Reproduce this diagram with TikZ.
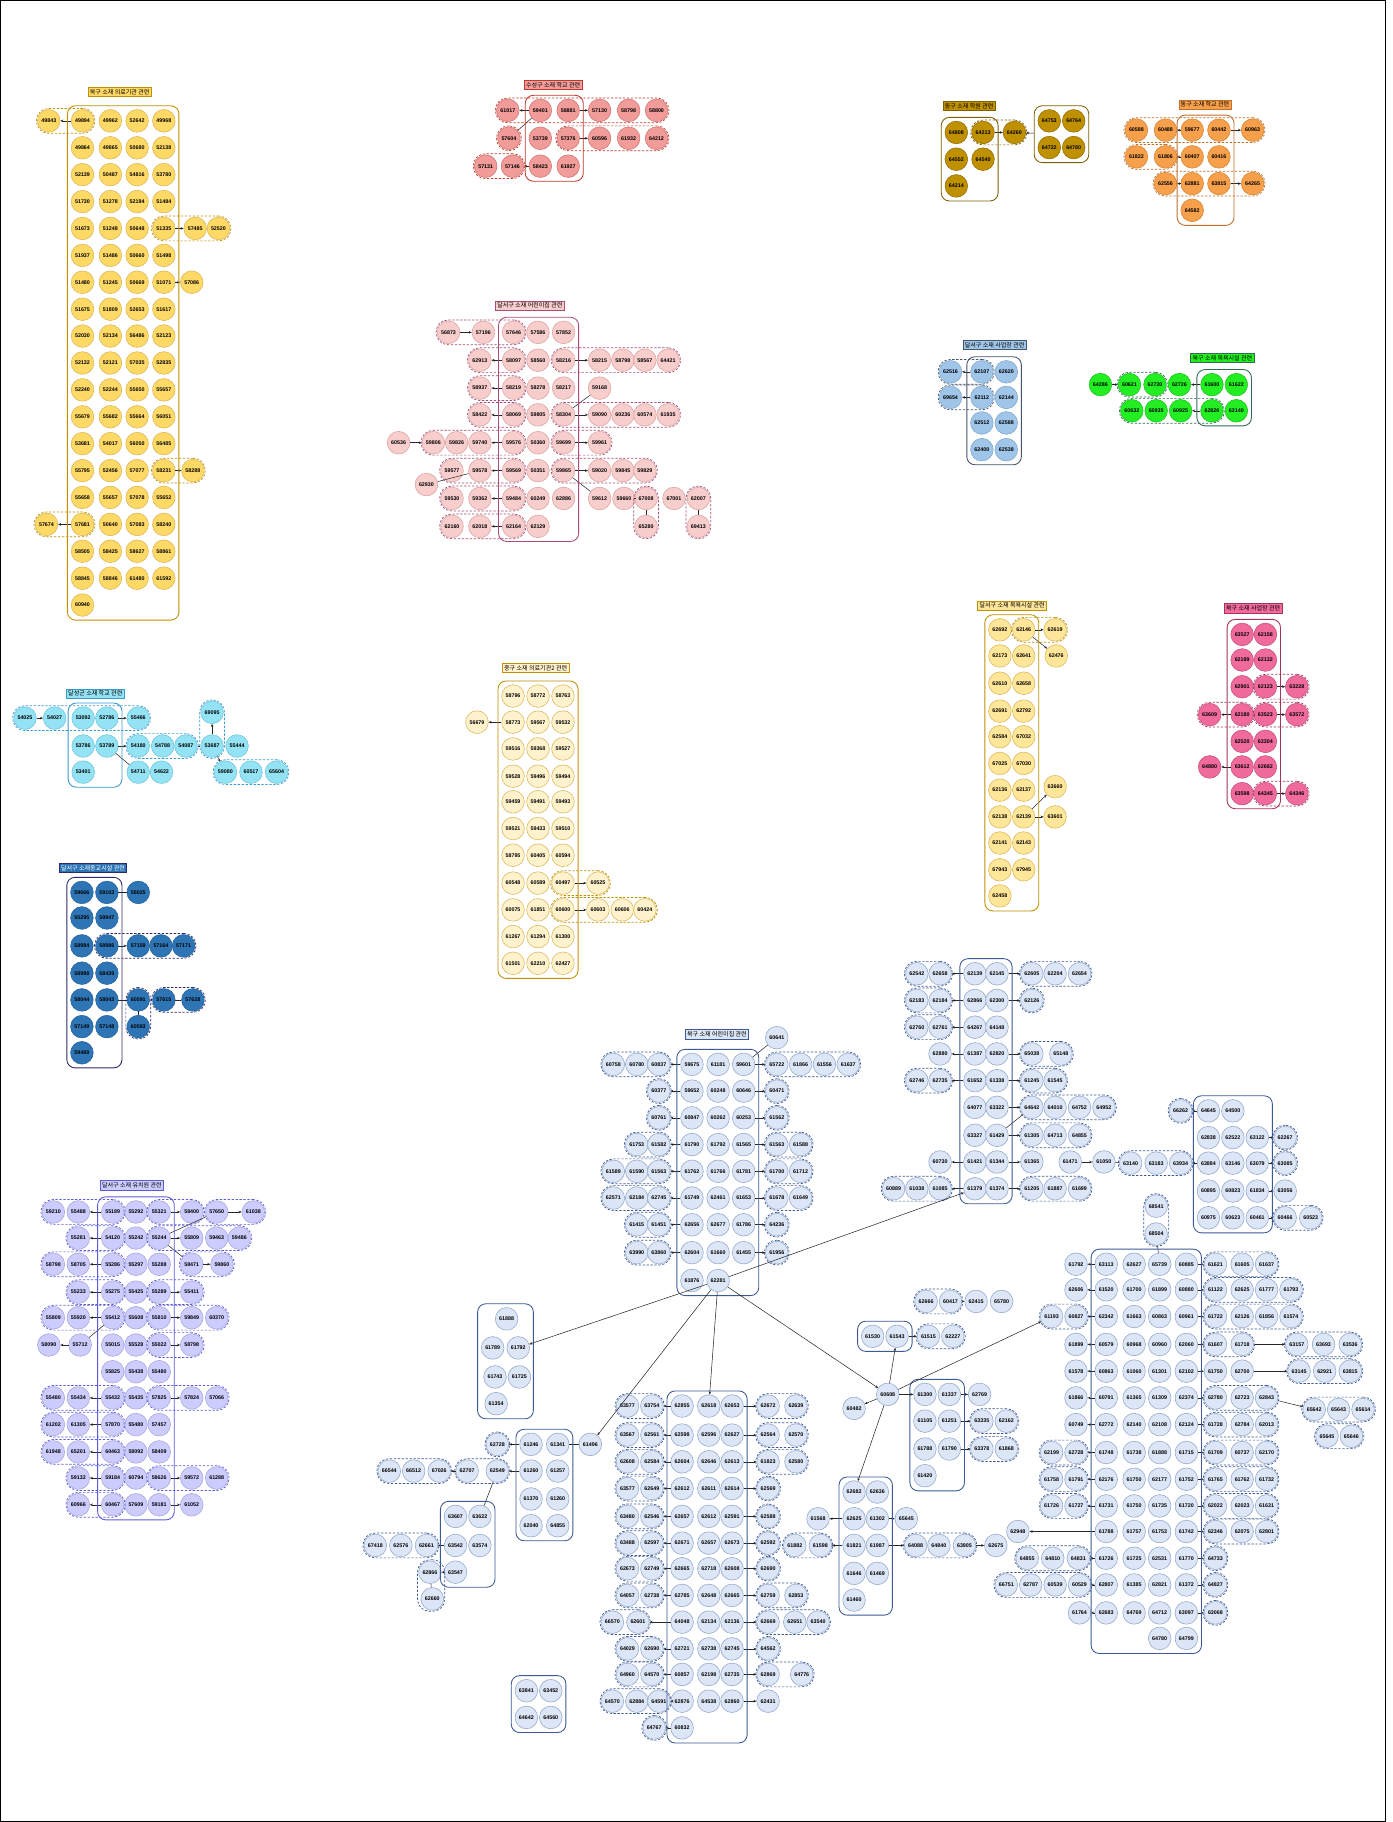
\documentclass[tikz,border=0pt]{standalone}
\usepackage{fontspec}
\setmainfont{Liberation Sans}
\newfontfamily\kr{Noto Sans CJK KR}
\usetikzlibrary{fit,arrows.meta}
\definecolor{yA}{HTML}{FFD966}\definecolor{yAo}{HTML}{D6B656}\definecolor{gold}{HTML}{BF9000}
\definecolor{sB}{HTML}{F19C99}\definecolor{sBo}{HTML}{D07070}\definecolor{sBd}{HTML}{C0392B}
\definecolor{bC}{HTML}{BF9000}\definecolor{bCo}{HTML}{8F6C00}\definecolor{bCd}{HTML}{7F6000}
\definecolor{oD}{HTML}{F7A04B}\definecolor{oDo}{HTML}{D4822E}\definecolor{oDd}{HTML}{C0702A}
\definecolor{pE}{HTML}{F8CECC}\definecolor{pEo}{HTML}{D9A0A0}\definecolor{pEd}{HTML}{A64D79}
\definecolor{bF}{HTML}{9FC5E8}\definecolor{bFo}{HTML}{7FA6CC}\definecolor{bFd}{HTML}{44546A}
\definecolor{gG}{HTML}{22EE22}\definecolor{gGo}{HTML}{22BB22}\definecolor{gGd}{HTML}{2E6B4F}
\definecolor{cH}{HTML}{93E3F5}\definecolor{cHo}{HTML}{6CC3DD}\definecolor{cHd}{HTML}{3D9BCB}
\definecolor{yI}{HTML}{FFF2CC}
\definecolor{yJ}{HTML}{FFE699}
\definecolor{pK}{HTML}{F06A9B}\definecolor{pKo}{HTML}{C44D7A}\definecolor{pKd}{HTML}{A3335F}
\definecolor{bL}{HTML}{2E75B6}\definecolor{bLo}{HTML}{24609A}\definecolor{bLd}{HTML}{2B2B6A}
\definecolor{lM}{HTML}{CCCCFF}\definecolor{lMo}{HTML}{A3A3D8}\definecolor{lMd}{HTML}{5B5BD6}
\definecolor{lN}{HTML}{DCE6F6}\definecolor{lNo}{HTML}{8FA4C8}\definecolor{lNd}{HTML}{3D5A96}
\tikzset{
 cn/.style={circle, minimum size=19.5pt, inner sep=0pt, line width=0.45pt, font=\bfseries\fontsize{4.6}{5}\selectfont, text=black},
 cA/.style={cn, fill=yA, draw=yAo},
 cB/.style={cn, fill=sB, draw=sBo},
 cC/.style={cn, fill=bC, draw=bCo},
 cD/.style={cn, fill=oD, draw=oDo},
 cE/.style={cn, fill=pE, draw=pEo},
 cF/.style={cn, fill=bF, draw=bFo},
 cG/.style={cn, fill=gG, draw=gGo},
 cH/.style={cn, fill=cH, draw=cHo},
 cI/.style={cn, fill=yI, draw=yAo},
 cJ/.style={cn, fill=yJ, draw=yAo},
 cK/.style={cn, fill=pK, draw=pKo},
 cL/.style={cn, fill=bL, draw=bLo},
 cM/.style={cn, fill=lM, draw=lMo},
 cN/.style={cn, fill=lN, draw=lNo},
 dg/.style={draw=#1, dash pattern=on 2pt off 1.4pt, line width=0.6pt, inner sep=0.7pt, rounded corners=10.4pt},
 sg/.style={draw=#1, line width=0.75pt, inner sep=3pt, rounded corners=7pt},
 ttl/.style={font=\kr\fontsize{5.2}{6.2}\selectfont, inner sep=1.6pt, line width=0.45pt, text=black},
 arr/.style={draw=black!85, line width=0.45pt, -{Stealth[length=2.6pt,width=2.2pt]}},
 ln/.style={draw=black!85, line width=0.45pt},
}
\newcommand\cRow[4]{\foreach \px/\lb [count=\ii] in {#4}{\node[#1] (#2-\ii) at (\px,#3) {\lb};}}
\newcommand\cArr[2]{\draw[arr] (#1) -- (#2);}
\newcommand\cLin[2]{\draw[ln] (#1) -- (#2);}
\newcommand\dGrp[3]{\node[dg=#1, fit=#3] (#2) {};}
\newcommand\sGrp[3]{\node[sg=#1, fit=#3] (#2) {};}
\begin{document}
\begin{tikzpicture}[x=1pt,y=-1pt]
\useasboundingbox (0,0) rectangle (1198,1568);
\fill[white] (0,0) rectangle (1198,1568);
\draw[line width=0.8pt] (0.6,0.6) rectangle (1192,1567.4);

% ===== A: 북구 소재 의료기관 관련
\node[ttl, fill=yA, draw=gold] (tA) at (103,79) {북구 소재 의료기관 관련};
\cRow{cA}{A1}{104}{42/49843,71/49894,95/49962,118/52642,141/49968}
\cRow{cA}{A2}{127.2}{71/49864,95/49865,118/50680,141/52138}
\cRow{cA}{A3}{150.3}{71/52139,95/50487,118/54816,141/53780}
\cRow{cA}{A4}{173.5}{71/51730,95/51278,118/52194,141/51484}
\cRow{cA}{A5}{196.6}{71/51673,95/51248,118/50648,141/51335,168/57485,188/52520}
\cRow{cA}{A6}{219.8}{71/51937,95/51486,118/50660,141/51498}
\cRow{cA}{A7}{242.9}{71/51480,95/51245,118/50669,141/51071,165/57086}
\cRow{cA}{A8}{266.1}{71/51675,95/51809,118/52653,141/51617}
\cRow{cA}{A9}{289.2}{71/52030,95/52134,118/56486,141/52123}
\cRow{cA}{A10}{312.4}{71/52132,95/52121,118/57035,141/52835}
\cRow{cA}{A11}{335.5}{71/52240,95/52244,118/55650,141/55657}
\cRow{cA}{A12}{358.7}{71/55679,95/55682,118/55664,141/56051}
\cRow{cA}{A13}{381.8}{71/53681,95/54017,118/56050,141/56485}
\cRow{cA}{A14}{405}{71/55795,95/52456,118/57077,141/58231,166/58288}
\cRow{cA}{A15}{428.1}{71/55658,95/55657,118/57078,141/55652}
\cRow{cA}{A16}{451.3}{40/57674,71/57681,95/50640,118/57083,141/58240}
\cRow{cA}{A17}{474.4}{71/58505,95/58425,118/58627,141/58861}
\cRow{cA}{A18}{497.6}{71/58845,95/58846,118/61480,141/61592}
\cRow{cA}{A19}{520.7}{71/60940}
\cArr{A1-2}{A1-1}\cArr{A5-4}{A5-5}\cArr{A7-4}{A7-5}\cArr{A14-4}{A14-5}\cArr{A16-2}{A16-1}
\dGrp{gold}{gA1}{(A1-1)(A1-2)}\dGrp{gold}{gA2}{(A5-4)(A5-6)}\dGrp{gold}{gA3}{(A14-4)(A14-5)}\dGrp{gold}{gA4}{(A16-1)(A16-2)}
\sGrp{gold}{sA}{(A1-2)(A1-5)(A19-1)}

% ===== B: 수성구 소재 학교 관련
\node[ttl, fill=sB, draw=sBd] (tB) at (476,73) {수성구 소재 학교 관련};
\cRow{cB}{B1}{95}{437/61017,465/59401,489/58881,516/57130,541/58798,565/58800}
\cRow{cB}{B2}{119}{438/57604,465/53739,489/57376,516/60596,541/61932,565/64212}
\cRow{cB}{B3}{143}{418/57131,441/57146,465/58423,489/61927}
\cArr{B1-2}{B1-1}\cLin{B1-2}{B2-1}\cArr{B1-3}{B1-4}\cArr{B2-3}{B2-4}\cArr{B3-3}{B3-2}
\dGrp{sBd}{gB1}{(B1-1)(B1-6)}\dGrp{sBd}{gB2}{(B2-3)(B2-6)}\dGrp{sBd}{gB3}{(B3-1)(B3-2)}\dGrp{sBd}{gB4}{(B2-1)}
\sGrp{sBd}{sB}{(B1-2)(B1-3)(B3-3)}

% ===== C: 동구 소재 학원 관련
\node[ttl, fill=bC, draw=bCd] (tC) at (834,91) {동구 소재 학원 관련};
\cRow{cC}{C1}{114}{823/64808,846/64213,873/64260}
\cRow{cC}{C2}{137}{823/64552,846/64540}
\cRow{cC}{C3}{160}{823/64214}
\cRow{cC}{C4}{104}{903/64753,924/64764}
\cRow{cC}{C5}{127}{903/64722,924/64780}
\cArr{C1-2}{C1-3}
\dGrp{bCd}{gC1}{(C1-2)(C1-3)}
\sGrp{bCd}{sC1}{(C1-1)(C1-2)(C3-1)}
\sGrp{bCd}{sC2}{(C4-1)(C4-2)(C5-2)}
\cArr{sC2}{C1-3}

% ===== D: 동구 소재 학교 관련
\node[ttl, fill=oD, draw=oDd] (tD) at (1037,90) {동구 소재 학교 관련};
\cRow{cD}{D1}{112}{978/60588,1003/60488,1026/59677,1049/60442,1078/60963}
\cRow{cD}{D2}{135}{978/61822,1003/61806,1026/60407,1049/60416}
\cRow{cD}{D3}{158}{1003/62556,1026/62881,1049/63815,1078/64265}
\cRow{cD}{D4}{181}{1026/64582}
\cArr{D1-3}{D1-2}\cArr{D1-4}{D1-5}\cArr{D2-3}{D2-2}\cArr{D3-2}{D3-1}\cArr{D3-3}{D3-4}
\dGrp{oDd}{gD1}{(D1-1)(D1-5)}\dGrp{oDd}{gD2}{(D2-1)(D2-2)}\dGrp{oDd}{gD3}{(D3-1)(D3-4)}
\sGrp{oDd}{sD}{(D1-3)(D1-4)(D4-1)}

% ===== E: 달서구 소재 어린이집 관련
\node[ttl, fill=pE, draw=pEd] (tE) at (456,263) {달서구 소재 어린이집 관련};
\cRow{cE}{E1}{286}{386/56873,416/57196,442/57646,463/57586,485/57852}
\cRow{cE}{E2}{310}{413/62913,442/58097,463/58560,485/58216,516/58215,536/58798,555/58567,575/64421}
\cRow{cE}{E3}{334}{413/58937,442/58219,463/58278,485/58217,516/59168}
\cRow{cE}{E4}{357}{413/58422,442/58069,463/59805,485/58304,516/59090,536/60236,555/60574,575/61935}
\cRow{cE}{E5}{381}{343/60536,373/59806,393/59826,413/59740,442/59576,463/50360,485/59699,516/59961}
\cRow{cE}{E6}{405}{389/59577,413/59578,442/59569,463/50351,485/59865,516/59020,536/59845,555/59829}
\cRow{cE}{E7}{429}{389/59530,413/59362,442/59484,463/60249,485/62886,516/59612,537/59660,556/67008,580/67001,601/62007}
\cRow{cE}{E8}{453}{389/62160,413/62018,442/62164,463/62129,556/65280,601/69413}
\cRow{cE}{E9}{417}{367/62930}
\cArr{E1-1}{E1-2}\cArr{E2-2}{E2-1}\cArr{E3-2}{E3-1}\cArr{E4-2}{E4-1}\cArr{E2-4}{E2-5}\cArr{E4-4}{E4-5}
\cLin{E4-4}{E3-5}\cArr{E5-5}{E5-4}\cArr{E5-1}{E5-2}\cArr{E5-7}{E5-8}\cArr{E6-3}{E6-2}\cArr{E6-5}{E6-6}
\cLin{E6-5}{E7-6}\cLin{E6-2}{E9-1}\cArr{E7-3}{E7-2}\cArr{E8-3}{E8-2}\cLin{E7-7}{E7-8}\cLin{E7-8}{E8-5}\cLin{E7-10}{E8-6}
\dGrp{pEd}{gE1}{(E1-1)(E1-3)}\dGrp{pEd}{gE2}{(E2-1)(E2-2)}\dGrp{pEd}{gE3}{(E2-4)(E2-8)}
\dGrp{pEd}{gE4}{(E3-1)(E3-2)}\dGrp{pEd}{gE5}{(E4-1)(E4-2)}\dGrp{pEd}{gE6}{(E4-4)(E4-8)}
\dGrp{pEd}{gE7}{(E5-2)(E5-5)}\dGrp{pEd}{gE8}{(E5-7)(E5-8)}\dGrp{pEd}{gE9}{(E6-1)(E6-3)}
\dGrp{pEd}{gE10}{(E6-5)(E6-8)}\dGrp{pEd}{gE11}{(E7-1)(E7-3)}\dGrp{pEd}{gE12}{(E8-1)(E8-3)}
\dGrp{pEd}{gE13}{(E7-8)(E8-5)}\dGrp{pEd}{gE14}{(E7-10)(E8-6)}
\sGrp{pEd}{sE}{(E1-3)(E1-5)(E8-3)}

% ===== F: 달서구 소재 사업장 관련
\node[ttl, fill=bF, draw=bFd] (tF) at (856,297) {달서구 소재 사업장 관련};
\cRow{cF}{F1}{320}{818/62516,845/62107,866/62620}
\cRow{cF}{F2}{342}{818/69654,845/62112,866/62144}
\cRow{cF}{F3}{364}{845/62512,866/62588}
\cRow{cF}{F4}{387}{845/62400,866/62538}
\cArr{F1-2}{F1-1}\cArr{F2-2}{F2-1}
\dGrp{bFd}{gF1}{(F1-1)(F1-2)}\dGrp{bFd}{gF2}{(F2-1)(F2-2)}
\sGrp{bFd}{sF}{(F1-2)(F1-3)(F4-1)}

% ===== G: 북구 소재 목욕시설 관련
\node[ttl, fill=gG, draw=gGd] (tG) at (1052,308) {북구 소재 목욕시설 관련};
\cRow{cG}{G1}{331}{947/64286,972/60621,994/62720,1015/62726,1043/61600,1064/61622}
\cRow{cG}{G2}{353.5}{974/60632,995/60935,1016/60925,1043/62826,1064/62140}
\cArr{G1-1}{G1-2}\cArr{G1-5}{G1-4}\cArr{G2-4}{G2-3}
\dGrp{gGd}{gG1}{(G1-2)(G1-3)}\dGrp{gGd}{gG2}{(G2-1)(G2-4)}
\sGrp{gGd}{sG}{(G1-5)(G1-6)(G2-5)}

% ===== H: 달성군 소재 학교 관련
\node[ttl, fill=cH, draw=cHd] (tH) at (82,597) {달성군 소재 학교 관련};
\cRow{cH}{H1}{618}{21.5/54025,47/54027,71.6/53092,92/52786,119/55466}
\cRow{cH}{H2}{642}{71.6/53786,92/53789,119/54180,140/54788,160/54087,182.5/53687,204/55444}
\cRow{cH}{H3}{664.5}{71.6/53401,119/54711,139/54622,194/59080,216/60517,238/65604}
\cRow{cH}{H4}{613}{182.5/69095}
\cArr{H1-1}{H1-2}\cArr{H1-4}{H1-5}\cArr{H2-2}{H2-3}\cLin{H2-2}{H3-2}\cLin{H2-5}{H2-6}\cArr{H2-6}{H4-1}\cArr{H2-6}{H3-4}
\dGrp{cHd}{gH1}{(H1-1)(H1-5)}\dGrp{cHd}{gH2}{(H2-3)(H2-5)}\dGrp{cHd}{gH3}{(H4-1)(H2-6)}\dGrp{cHd}{gH4}{(H3-4)(H3-6)}
\sGrp{cHd}{sH}{(H1-3)(H1-4)(H3-1)}

% ===== I: 중구 소재 의료기관2 관련
\node[ttl, fill=yI, draw=gold] (tI) at (461,575) {중구 소재 의료기관2 관련};
\cRow{cI}{I1}{599}{441.5/58796,463/58772,484.5/58763}
\cRow{cI}{I2}{621.5}{410.5/56679,441.5/58773,463/59567,484.5/59532}
\cRow{cI}{I3}{644.5}{441.5/59516,463/59368,484.5/59527}
\cRow{cI}{I4}{668}{441.5/59528,463/59496,484.5/59494}
\cRow{cI}{I5}{690}{441.5/59459,463/59491,484.5/59493}
\cRow{cI}{I6}{713}{441.5/59521,463/59433,484.5/59510}
\cRow{cI}{I7}{736}{441.5/58795,463/60405,484.5/60594}
\cRow{cI}{I8}{760}{441.5/60548,463/60589,484.5/60497,514.6/60525}
\cRow{cI}{I9}{783}{441.5/60075,463/61851,484.5/60600,514.6/60603,535.5/60606,555/60424}
\cRow{cI}{I10}{806}{441.5/61267,463/61294,484.5/61300}
\cRow{cI}{I11}{829}{441.5/61501,463/62210,484.5/62427}
\cArr{I2-2}{I2-1}\cArr{I8-3}{I8-4}\cArr{I9-3}{I9-4}
\dGrp{gold}{gI1}{(I8-3)(I8-4)}\dGrp{gold}{gI2}{(I9-3)(I9-6)}
\sGrp{gold}{sI}{(I1-1)(I1-3)(I11-1)}

% ===== J: 달서구 소재 목욕시설 관련
\node[ttl, fill=yJ, draw=gold] (tJ) at (871,521) {달서구 소재 목욕시설 관련};
\cRow{cJ}{J1}{542}{860.5/62692,881/62146,908/62619}
\cRow{cJ}{J2}{564.5}{860.5/62173,881/62641,909/62476}
\cRow{cJ}{J3}{588}{860.5/62610,881/62658}
\cRow{cJ}{J4}{612}{860.5/62691,881/62792}
\cRow{cJ}{J5}{634}{860.5/62584,881/67032}
\cRow{cJ}{J6}{657}{860.5/67025,881/67030}
\cRow{cJ}{J7}{680}{860.5/62136,881/62137}
\cRow{cJ}{J7b}{677}{908/63660}
\cRow{cJ}{J8}{703}{860.5/62138,881/62139,908/63601}
\cRow{cJ}{J9}{725.5}{860.5/62141,881/62143}
\cRow{cJ}{J10}{748.5}{860.5/67943,881/67945}
\cRow{cJ}{J11}{771}{860.5/62458}
\cArr{J1-2}{J1-3}\cArr{J1-2}{J2-3}\cArr{J8-2}{J7b-1}\cArr{J8-2}{J8-3}
\dGrp{gold}{gJ1}{(J1-2)(J1-3)}
\sGrp{gold}{sJ}{(J1-1)(J1-2)(J11-1)}

% ===== K: 북구 소재 사업장 관련
\node[ttl, fill=pK, draw=pKd] (tK) at (1078.5,523.5) {북구 소재 사업장 관련};
\cRow{cK}{K1}{546}{1069/63527,1089/62158}
\cRow{cK}{K2}{568}{1069/62189,1089/62132}
\cRow{cK}{K3}{591}{1069/62901,1089/62123,1116/63228}
\cRow{cK}{K4}{615}{1041/63609,1069/62180,1089/63523,1116/63572}
\cRow{cK}{K5}{638}{1069/62520,1089/63304}
\cRow{cK}{K6}{660}{1041/64880,1069/63612,1089/62682}
\cRow{cK}{K7}{683}{1069/63598,1089/64345,1116/64346}
\cArr{K3-2}{K3-3}\cArr{K4-2}{K4-1}\cArr{K4-3}{K4-4}\cArr{K6-2}{K6-1}\cArr{K7-2}{K7-3}
\dGrp{pKd}{gK1}{(K3-2)(K3-3)}\dGrp{pKd}{gK2}{(K4-1)(K4-2)}\dGrp{pKd}{gK3}{(K4-3)(K4-4)}\dGrp{pKd}{gK4}{(K7-2)(K7-3)}
\sGrp{pKd}{sK}{(K1-1)(K1-2)(K7-1)}

% ===== L: 달서구 소재종교시설 관련
\node[ttl, fill=bL, draw=bLd, text=white] (tL) at (80,747) {달서구 소재종교시설 관련};
\cRow{cL}{L1}{768}{70.5/59666,92/59103,119/58025}
\cRow{cL}{L2}{790}{70.5/55295,92/59947}
\cRow{cL}{L3}{814}{70.5/58984,92/58986,119/57159,138.5/57164,158/57171}
\cRow{cL}{L4}{837.5}{70.5/58988,92/58439}
\cRow{cL}{L5}{860.5}{70.5/58044,92/58043,119/60591,141/57615,166/57628}
\cRow{cL}{L6}{883.5}{70.5/57149,92/57148,119/60593}
\cRow{cL}{L7}{906}{70.5/59489}
\cLin{L1-2}{L1-3}\cArr{L3-2}{L3-3}\cLin{L5-2}{L5-3}\cLin{L5-3}{L6-3}\cLin{L5-4}{L5-5}
\dGrp{bLd}{gL1}{(L3-2)(L3-5)}\dGrp{bLd}{gL2}{(L5-3)(L6-3)}\dGrp{bLd}{gL3}{(L5-4)(L5-5)}
\sGrp{bLd}{sL}{(L1-1)(L1-2)(L7-1)}

% ===== M: 달서구 소재 유치원 관련
\node[ttl, fill=lM, draw=lMd] (tM) at (113.5,1020) {달서구 소재 유치원 관련};
\cRow{cM}{M1}{1043}{45.9/59210,67.4/55488,97/55189,117/55292,137/55321,165/58400,186.5/57650,218/61038}
\cRow{cM}{M2}{1065.5}{67.4/55281,97/54120,117/55242,137/55244,165/55809,186.5/59463,206/59486}
\cRow{cM}{M3}{1088}{45.9/58798,67.4/58705,97/55286,117/55297,137/55288,165/58471,191/59860}
\cRow{cM}{M4}{1112}{67.4/55233,97/55275,117/55425,137/55289,165/55411}
\cRow{cM}{M5}{1134}{45.9/55809,67.4/55920,97/55412,117/55608,137/55810,165/59849,186.5/60370}
\cRow{cM}{M6}{1157.5}{42/58090,69/55712,97/55015,117/55528,137/55022,165/58798}
\cRow{cM}{M7}{1180.5}{97/55825,117/55438,137/55480}
\cRow{cM}{M8}{1203}{45.9/55480,67.4/55434,97/55432,117/55435,137/57825,165/57824,186.5/57066}
\cRow{cM}{M9}{1226}{45.9/61202,67.4/61305,97/57870,117/55480,137/57457}
\cRow{cM}{M10}{1249.5}{45.9/61948,67.4/65201,97/60463,117/58092,137/58409}
\cRow{cM}{M11}{1272}{67.4/59132,97/59184,117/60794,137/58626,165/59572,186.5/61288}
\cRow{cM}{M12}{1295}{67.4/60966,97/60467,117/57609,137/59181,165/61052}
\cArr{M1-3}{M1-2}\cArr{M1-5}{M1-6}\cArr{M1-7}{M1-8}\cLin{M2-4}{M1-7}\cArr{M2-2}{M2-1}\cArr{M2-4}{M2-5}
\cLin{M2-4}{M3-6}\cArr{M3-3}{M3-2}\cArr{M3-6}{M3-7}\cArr{M4-2}{M4-1}\cArr{M4-4}{M4-5}\cArr{M5-3}{M5-2}
\cLin{M5-3}{M6-2}\cArr{M6-2}{M6-1}\cArr{M5-5}{M5-6}\cArr{M6-5}{M6-6}\cArr{M8-3}{M8-2}\cArr{M8-5}{M8-6}
\cArr{M9-3}{M9-2}\cArr{M10-3}{M10-2}\cArr{M11-2}{M11-1}\cArr{M11-4}{M11-5}\cArr{M12-2}{M12-1}\cArr{M12-4}{M12-5}
\dGrp{lMd}{gM1}{(M1-1)(M1-3)}\dGrp{lMd}{gM2}{(M1-5)(M1-6)}\dGrp{lMd}{gM3}{(M1-7)(M1-8)}
\dGrp{lMd}{gM4}{(M2-1)(M2-2)}\dGrp{lMd}{gM5}{(M2-4)(M2-7)}\dGrp{lMd}{gM6}{(M3-1)(M3-3)}
\dGrp{lMd}{gM7}{(M3-6)(M3-7)}\dGrp{lMd}{gM8}{(M4-1)(M4-2)}\dGrp{lMd}{gM9}{(M4-4)(M4-5)}
\dGrp{lMd}{gM10}{(M5-1)(M5-3)}\dGrp{lMd}{gM11}{(M5-5)(M5-7)}\dGrp{lMd}{gM12}{(M6-5)(M6-6)}
\dGrp{lMd}{gM13}{(M8-1)(M8-3)}\dGrp{lMd}{gM14}{(M8-5)(M8-7)}\dGrp{lMd}{gM15}{(M9-1)(M9-3)}
\dGrp{lMd}{gM16}{(M10-1)(M10-3)}\dGrp{lMd}{gM17}{(M11-1)(M11-2)}\dGrp{lMd}{gM18}{(M11-4)(M11-6)}
\dGrp{lMd}{gM19}{(M12-1)(M12-2)}
\sGrp{lMd}{sM}{(M1-3)(M1-5)(M12-2)}

% ===== N: 북구 소재 어린이집 관련
\node[ttl, fill=lN, draw=lNd] (tN) at (617,890) {북구 소재 어린이집 관련};
% N1
\cRow{cN}{Na0}{893}{668.5/60641}
\cRow{cN}{Na1}{916}{527.8/60758,548/60780,567/60837,595.5/59675,618/61181,640/59601,668.5/65722,689/61866,709.5/61556,730/61637}
\cRow{cN}{Na2}{939}{567/60377,595.5/59652,618/60248,640/60646,668.5/60471}
\cRow{cN}{Na3}{962}{567/60761,595.5/60847,618/60262,640/60253,668.5/61562}
\cRow{cN}{Na4}{985}{548/61753,567/61582,595.5/61790,618/61792,640/61565,668.5/61563,689/61588}
\cRow{cN}{Na5}{1008}{527.8/61589,548/61590,567/61563,595.5/61762,618/61766,640/61781,668.5/61700,689/61712}
\cRow{cN}{Na6}{1031}{527.8/62571,548/62184,567/62745,595.5/61749,618/62461,640/61653,668.5/61678,689/61649}
\cRow{cN}{Na7}{1054}{548/61415,567/61451,595.5/62656,618/62677,640/61786,668.5/64236}
\cRow{cN}{Na8}{1078}{548/63990,567/63860,595.5/62604,618/61660,640/61455,668.5/61956}
\cRow{cN}{Na9}{1102}{595.5/61876,618/62281}
\cArr{Na1-4}{Na1-3}\cArr{Na1-6}{Na1-7}\cLin{Na1-6}{Na0-1}
\cArr{Na2-2}{Na2-1}\cArr{Na2-4}{Na2-5}\cArr{Na3-2}{Na3-1}\cArr{Na3-4}{Na3-5}
\cArr{Na4-3}{Na4-2}\cArr{Na4-5}{Na4-6}\cArr{Na5-4}{Na5-3}\cArr{Na5-6}{Na5-7}
\cArr{Na6-4}{Na6-3}\cArr{Na6-6}{Na6-7}\cArr{Na7-3}{Na7-2}\cArr{Na7-5}{Na7-6}\cArr{Na8-3}{Na8-2}\cArr{Na8-5}{Na8-6}
\dGrp{lNd}{gNa1}{(Na1-1)(Na1-3)}\dGrp{lNd}{gNa2}{(Na1-7)(Na1-10)}\dGrp{lNd}{gNa3}{(Na2-1)}\dGrp{lNd}{gNa4}{(Na2-5)}
\dGrp{lNd}{gNa5}{(Na3-1)}\dGrp{lNd}{gNa6}{(Na3-5)}\dGrp{lNd}{gNa7}{(Na4-1)(Na4-2)}\dGrp{lNd}{gNa8}{(Na4-6)(Na4-7)}
\dGrp{lNd}{gNa9}{(Na5-1)(Na5-3)}\dGrp{lNd}{gNa10}{(Na5-7)(Na5-8)}\dGrp{lNd}{gNa11}{(Na6-1)(Na6-3)}\dGrp{lNd}{gNa12}{(Na6-7)(Na6-8)}
\dGrp{lNd}{gNa13}{(Na7-1)(Na7-2)}\dGrp{lNd}{gNa14}{(Na8-1)(Na8-2)}\dGrp{lNd}{gNa15}{(Na7-6)}\dGrp{lNd}{gNa16}{(Na8-6)}
\sGrp{lNd}{sNa}{(Na1-4)(Na1-6)(Na9-1)}
% N2
\cRow{cN}{Nb1}{838}{789/62542,809/62658,839/62139,858/62145,888/62605,908/62204,929/62654}
\cRow{cN}{Nb2}{861}{789/62183,809/62184,839/62866,858/62300,888/62126}
\cRow{cN}{Nb3}{884}{789/62760,809/62761,839/64267,858/64148}
\cRow{cN}{Nb4}{907}{809/62880,839/61387,858/62820,888/65038,913/65148}
\cRow{cN}{Nb5}{930}{789/62746,809/62735,839/61652,858/61338,888/61245,908/61545}
\cRow{cN}{Nb6}{953}{839/64077,858/63322,888/64642,908/64010,929/64752,950/64952}
\cRow{cN}{Nb7}{977}{839/63327,858/61429,888/61305,908/64713,929/64855}
\cRow{cN}{Nb8}{1000}{809/60730,839/61421,858/61344,888/61365,921/61471,950/61050}
\cRow{cN}{Nb9}{1023}{769/60889,789/61038,809/61085,839/61379,858/61374,888/61205,908/61887,929/61699}
\cArr{Nb1-3}{Nb1-2}\cArr{Nb1-4}{Nb1-5}\cArr{Nb2-3}{Nb2-2}\cArr{Nb2-4}{Nb2-5}\cArr{Nb3-3}{Nb3-2}
\cArr{Nb4-2}{Nb4-1}\cArr{Nb4-3}{Nb4-4}\cArr{Nb5-3}{Nb5-2}\cArr{Nb5-4}{Nb5-5}\cArr{Nb6-2}{Nb6-3}
\cArr{Nb7-2}{Nb7-3}\cLin{Nb7-2}{Nb6-3}\cArr{Nb8-2}{Nb8-1}\cArr{Nb8-3}{Nb8-4}\cArr{Nb8-5}{Nb8-6}\cArr{Nb9-4}{Nb9-3}\cArr{Nb9-5}{Nb9-6}
\dGrp{lNd}{gNb1}{(Nb1-1)(Nb1-2)}\dGrp{lNd}{gNb2}{(Nb1-5)(Nb1-7)}\dGrp{lNd}{gNb3}{(Nb2-1)(Nb2-2)}\dGrp{lNd}{gNb4}{(Nb3-1)(Nb3-2)}
\dGrp{lNd}{gNb5}{(Nb4-4)(Nb4-5)}\dGrp{lNd}{gNb6}{(Nb5-1)(Nb5-2)}\dGrp{lNd}{gNb7}{(Nb5-5)(Nb5-6)}\dGrp{lNd}{gNb8}{(Nb6-3)(Nb6-6)}
\dGrp{lNd}{gNb9}{(Nb7-3)(Nb7-5)}\dGrp{lNd}{gNb10}{(Nb9-1)(Nb9-3)}\dGrp{lNd}{gNb11}{(Nb9-6)(Nb9-8)}\dGrp{lNd}{gNb12}{(Nb2-5)}
\sGrp{lNd}{sNb}{(Nb1-3)(Nb1-4)(Nb9-4)}
% N3
\cRow{cN}{Nc1}{956}{1016/66262,1040/64645,1061/64500}
\cRow{cN}{Nc2}{979}{1040/62838,1061/62522,1082/63122,1106/62267}
\cRow{cN}{Nc3}{1001}{973/63140,995/63183,1016/63934,1040/63884,1061/63146,1082/63079,1106/63085}
\cRow{cN}{Nc4}{1025}{1040/60895,1061/60823,1082/61834,1106/63056}
\cRow{cN}{Nc5}{1048}{1040/60975,1061/60623,1082/60461,1106/60466,1128/60523}
\cArr{Nc1-2}{Nc1-1}\cArr{Nc2-3}{Nc2-4}\cArr{Nc3-4}{Nc3-3}\cArr{Nc3-6}{Nc3-7}\cArr{Nc4-3}{Nc4-4}\cArr{Nc5-3}{Nc5-4}\cLin{Nb8-6}{Nc3-1}
\dGrp{lNd}{gNc1}{(Nc1-1)}\dGrp{lNd}{gNc2}{(Nc2-4)}\dGrp{lNd}{gNc3}{(Nc3-1)(Nc3-3)}\dGrp{lNd}{gNc4}{(Nc3-7)}\dGrp{lNd}{gNc5}{(Nc5-4)(Nc5-5)}
\sGrp{lNd}{sNc}{(Nc1-2)(Nc5-3)}
% N4
\cRow{cN}{NdT}{1038}{995/68541}
\cRow{cN}{NdU}{1062}{995/68504}
\cRow{cN}{Nd1}{1088}{926/61792,952/63113,976/62627,998/65739,1021/60885,1046/61621,1069/61605,1090/61637}
\cRow{cN}{Nd2}{1110}{926/62606,952/61520,976/61700,998/61899,1021/60880,1046/61122,1069/62625,1090/61777,1111/61793}
\cRow{cN}{Nd3}{1133}{905/61193,926/60827,952/62342,976/61663,998/60863,1021/60961,1046/61722,1069/62126,1090/61856,1111/61574}
\cRow{cN}{Nd4}{1157}{926/61899,952/60579,976/60968,998/60960,1021/62060,1046/61607,1069/61718,1116/63157,1139/63693,1162/63536}
\cRow{cN}{Nd5}{1180}{926/61578,952/60863,976/61060,998/61301,1021/62102,1046/61750,1069/62700,1118/63145,1140/62921,1162/63815}
\cRow{cN}{Nd6}{1203}{926/61866,952/60791,976/61365,998/61309,1021/62374,1046/62780,1069/62723,1090/62843}
\cRow{cN}{NdR1}{1213}{1131/65642,1152/65643,1173/65614}
\cRow{cN}{NdR2}{1236}{1142/65645,1163/65646}
\cRow{cN}{Nd7}{1226}{926/60749,952/62772,976/62140,998/62108,1021/62124,1046/61728,1069/62784,1090/62013}
\cRow{cN}{Nd8}{1250}{905/62199,926/62728,952/61748,976/61738,998/61888,1021/61715,1046/61709,1069/60737,1090/62170}
\cRow{cN}{Nd9}{1273}{905/61758,926/61791,952/62176,976/61750,998/62177,1021/61752,1046/61765,1069/61762,1090/61732}
\cRow{cN}{Nd10}{1296}{905/61726,926/61727,952/61731,976/61750,998/61735,1021/61720,1046/62022,1069/62023,1090/61631}
\cRow{cN}{Nd11}{1318}{876/62948,952/61788,976/61757,998/61753,1021/61742,1046/62346,1069/62075,1090/62801}
\cRow{cN}{Nd12}{1341}{884/64855,906/64810,928/64831,952/61726,976/61725,998/62531,1021/61770,1046/64733}
\cRow{cN}{Nd13}{1364}{866/66751,887/62787,908/60539,929/60529,952/62807,976/61385,998/62821,1021/61372,1046/64827}
\cRow{cN}{Nd14}{1388}{929/61764,952/62683,976/64769,998/64712,1021/63097,1046/63068}
\cRow{cN}{Nd15}{1410}{998/64780,1021/64799}
\cLin{NdU-1}{Nd1-4}
\cArr{Nd1-2}{Nd1-1}\cArr{Nd1-5}{Nd1-6}\cArr{Nd2-2}{Nd2-1}\cArr{Nd2-5}{Nd2-6}\cArr{Nd3-3}{Nd3-2}\cArr{Nd3-6}{Nd3-7}
\cArr{Nd4-2}{Nd4-1}\cArr{Nd4-5}{Nd4-6}\cArr{Nd4-7}{Nd4-8}\cArr{Nd5-2}{Nd5-1}\cArr{Nd5-5}{Nd5-6}\cArr{Nd5-7}{Nd5-8}
\cArr{Nd6-2}{Nd6-1}\cArr{Nd6-5}{Nd6-6}\cArr{Nd6-8}{NdR1-1}\cArr{Nd7-2}{Nd7-1}\cArr{Nd7-5}{Nd7-6}
\cArr{Nd8-3}{Nd8-2}\cArr{Nd8-6}{Nd8-7}\cArr{Nd9-3}{Nd9-2}\cArr{Nd9-6}{Nd9-7}\cArr{Nd10-3}{Nd10-2}\cArr{Nd10-6}{Nd10-7}
\cArr{Nd11-2}{Nd11-1}\cArr{Nd11-5}{Nd11-6}\cArr{Nd12-4}{Nd12-3}\cArr{Nd12-7}{Nd12-8}\cArr{Nd13-5}{Nd13-4}\cArr{Nd13-8}{Nd13-9}
\cArr{Nd14-2}{Nd14-1}\cArr{Nd14-5}{Nd14-6}
\dGrp{lNd}{gNd0}{(NdT-1)(NdU-1)}\dGrp{lNd}{gNdR1}{(NdR1-1)(NdR1-3)}\dGrp{lNd}{gNdR2}{(NdR2-1)(NdR2-2)}
\dGrp{lNd}{gNd1}{(Nd1-6)(Nd1-8)}\dGrp{lNd}{gNd2}{(Nd2-6)(Nd2-9)}\dGrp{lNd}{gNd3}{(Nd3-7)(Nd3-10)}\dGrp{lNd}{gNd3b}{(Nd3-1)(Nd3-2)}
\dGrp{lNd}{gNd4}{(Nd4-6)(Nd4-7)}\dGrp{lNd}{gNd4b}{(Nd4-8)(Nd4-10)}\dGrp{lNd}{gNd5}{(Nd5-8)(Nd5-10)}
\dGrp{lNd}{gNd6}{(Nd6-6)(Nd6-8)}\dGrp{lNd}{gNd7}{(Nd7-6)(Nd7-8)}\dGrp{lNd}{gNd8}{(Nd8-7)(Nd8-9)}\dGrp{lNd}{gNd8b}{(Nd8-1)(Nd8-2)}
\dGrp{lNd}{gNd9}{(Nd9-7)(Nd9-9)}\dGrp{lNd}{gNd9b}{(Nd9-1)(Nd9-2)}\dGrp{lNd}{gNd10}{(Nd10-7)(Nd10-9)}\dGrp{lNd}{gNd10b}{(Nd10-1)(Nd10-2)}
\dGrp{lNd}{gNd11}{(Nd11-6)(Nd11-8)}\dGrp{lNd}{gNd12}{(Nd12-1)(Nd12-3)}\dGrp{lNd}{gNd13}{(Nd13-1)(Nd13-4)}
\dGrp{lNd}{gNd14}{(Nd12-8)}\dGrp{lNd}{gNd15}{(Nd13-9)}\dGrp{lNd}{gNd16}{(Nd14-6)}
\sGrp{lNd}{sNd}{(Nd1-2)(Nd1-5)(Nd15-1)}
% N5
\cRow{cN}{NeT}{1120}{797/62666,818/60417,840/62415,862/65780}
\cRow{cN}{Ne1}{1150}{751/61530,772/61543,799/61515,820/62227}
\cRow{cN}{NeH}{1200}{764/60608}
\cRow{cN}{NeL}{1212}{735/60482}
\cRow{cN}{Ne2}{1200}{796/61300,817/61337,843/62769}
\cRow{cN}{Ne3}{1223}{796/61105,817/61251,845/63335,866/62162}
\cRow{cN}{Ne4}{1247}{796/61788,817/61790,845/63378,866/61868}
\cRow{cN}{Ne5}{1270}{796/61420}
\cArr{NeT-2}{NeT-3}\cArr{Ne1-2}{Ne1-3}\cArr{Ne2-2}{Ne2-3}\cArr{Ne3-2}{Ne3-3}\cArr{Ne4-2}{Ne4-3}
\dGrp{lNd}{gNe1}{(NeT-1)(NeT-2)}\dGrp{lNd}{gNe2}{(Ne1-3)(Ne1-4)}\dGrp{lNd}{gNe3}{(Ne3-3)(Ne3-4)}\dGrp{lNd}{gNe4}{(Ne4-3)(Ne4-4)}
\sGrp{lNd}{sNe1}{(Ne1-1)(Ne1-2)}
\sGrp{lNd}{sNe2}{(Ne2-1)(Ne2-2)(Ne5-1)}
% N6
\cRow{cN}{Nf1}{1284}{735/62682,755/62636}
\cRow{cN}{Nf2}{1307}{704/61568,735/62625,755/61302,780/65645}
\cRow{cN}{Nf3}{1330}{684/61882,706/61598,735/61821,755/61987,788/64088,808/64840,830/63905,857/62675}
\cRow{cN}{Nf4}{1354}{735/61646,755/61469}
\cRow{cN}{Nf5}{1377}{735/61460}
\cArr{Nf2-2}{Nf2-1}\cArr{Nf3-3}{Nf3-2}\cArr{Nf2-3}{Nf2-4}\cArr{Nf3-4}{Nf3-5}\cArr{Nf3-7}{Nf3-8}
\dGrp{lNd}{gNf1}{(Nf3-1)(Nf3-2)}\dGrp{lNd}{gNf2}{(Nf3-5)(Nf3-7)}
\sGrp{lNd}{sNf}{(Nf1-1)(Nf1-2)(Nf5-1)}
% N7
\cRow{cN}{Ng1}{1210}{540/63577,561/63754,587/62855,610/62618,630/62653,661/62672,685/62639}
\cRow{cN}{Ng2}{1235}{540/63567,561/62561,587/62598,610/62596,630/62627,661/62564,685/62570}
\cRow{cN}{Ng3}{1258}{540/62608,561/62584,587/62604,610/62646,630/62613,661/61823,685/62580}
\cRow{cN}{Ng4}{1281}{540/63577,561/62649,587/62612,610/62611,630/62614,661/62569}
\cRow{cN}{Ng5}{1305}{540/63480,561/62546,587/62657,610/62612,630/62591,661/62588}
\cRow{cN}{Ng6}{1328}{540/63488,561/62597,587/62671,610/62657,630/62673,661/62592}
\cRow{cN}{Ng7}{1350}{540/62673,561/62749,587/62665,610/62718,630/62608,661/62690}
\cRow{cN}{Ng8}{1373}{540/64057,561/62738,587/62785,610/62648,630/62665,661/62759,685/62853}
\cRow{cN}{Ng9}{1396}{527/66570,549/62601,587/64048,610/62134,630/62136,661/62669,684/62651,704/63540}
\cRow{cN}{Ng10}{1419}{540/64029,561/62690,587/62721,610/62738,630/62745,661/64562}
\cRow{cN}{Ng11}{1441}{540/64960,561/64570,587/60857,610/62198,630/62735,661/62869,690/64776}
\cRow{cN}{Ng12}{1464}{527/64570,548/62884,567/64591,587/62876,610/64538,630/62860,661/62431}
\cRow{cN}{Ng13}{1487}{563/64767,587/60832}
\foreach \k in {1,...,11}{\cArr{Ng\k-3}{Ng\k-2}\cArr{Ng\k-5}{Ng\k-6}}
\cArr{Ng12-4}{Ng12-3}\cArr{Ng12-6}{Ng12-7}\cArr{Ng13-2}{Ng13-1}
\foreach \k in {1,...,8,10,11}{\dGrp{lNd}{gNgL\k}{(Ng\k-1)(Ng\k-2)}}
\foreach \k in {1,2,3,8,11}{\dGrp{lNd}{gNgR\k}{(Ng\k-6)(Ng\k-7)}}
\foreach \k in {4,5,6,7,10}{\dGrp{lNd}{gNgR\k}{(Ng\k-6)}}
\dGrp{lNd}{gNgL9}{(Ng9-1)(Ng9-2)}\dGrp{lNd}{gNgR9}{(Ng9-6)(Ng9-8)}\dGrp{lNd}{gNgL12}{(Ng12-1)(Ng12-3)}\dGrp{lNd}{gNgL13}{(Ng13-1)}
\sGrp{lNd}{sNg}{(Ng1-3)(Ng1-5)(Ng13-2)}
% N8
\cRow{cN}{Nh1}{1135}{436/61888}
\cRow{cN}{Nh2}{1160}{424/61789,446/61792}
\cRow{cN}{Nh3}{1185}{426/61743,447/61725}
\cRow{cN}{Nh4}{1208}{427/61354}
\cRow{cN}{Nh5}{1243}{428/62728,457/61246,480/61341,508/61496}
\cRow{cN}{Nh6}{1266}{335/66544,356/66512,378/67026,402/62707,428/62549,457/61260,480/61257}
\cRow{cN}{Nh7}{1290}{457/61370,480/61260}
\cRow{cN}{Nh8}{1313}{457/62040,480/64855}
\cRow{cN}{Nh9}{1305}{392/63607,413/63622}
\cRow{cN}{Nh10}{1330}{323/67418,345/62576,367/62661,392/63542,413/63574}
\cRow{cN}{Nh11}{1353}{370/62866,392/63547}
\cRow{cN}{Nh12}{1376}{372/62660}
\cArr{Nh5-2}{Nh5-1}\cLin{Nh5-4}{Nh5-3}\cArr{Nh6-6}{Nh6-5}\cArr{Nh6-4}{Nh6-3}\cLin{Nh6-5}{Nh9-2}
\cArr{Nh10-4}{Nh10-3}\cArr{Nh11-2}{Nh11-1}\cLin{Nh11-1}{Nh12-1}
\dGrp{lNd}{gNh1}{(Nh6-1)(Nh6-3)}\dGrp{lNd}{gNh2}{(Nh10-1)(Nh10-3)}\dGrp{lNd}{gNh3}{(Nh11-1)(Nh12-1)}\dGrp{lNd}{gNh4}{(Nh5-1)}\dGrp{lNd}{gNh5}{(Nh6-4)(Nh6-5)}
\sGrp{lNd}{sNh1}{(Nh1-1)(Nh2-1)(Nh2-2)(Nh4-1)}
\sGrp{lNd}{sNh2}{(Nh5-2)(Nh5-3)(Nh8-1)(Nh8-2)}
\sGrp{lNd}{sNh3}{(Nh9-1)(Nh9-2)(Nh11-2)}
% N9
\cRow{cN}{Ni1}{1455}{453/63841,474/63452}
\cRow{cN}{Ni2}{1478}{453/64642,474/64560}
\sGrp{lNd}{sNi}{(Ni1-1)(Ni2-2)}
% hub lines
\cArr{Na9-2}{Nb9-4}\cArr{Na9-2}{Nh2-2}\cArr{Na9-2}{Nh5-4}\cArr{Na9-2}{Ng1-4}\cArr{Na9-2}{NeH-1}
\cArr{NeH-1}{NeL-1}\cArr{NeH-1}{Ne1-2}\cArr{NeH-1}{Ne2-1}\cArr{NeH-1}{Nd3-1}\cArr{NeH-1}{Nf1-1}
\end{tikzpicture}
\end{document}
